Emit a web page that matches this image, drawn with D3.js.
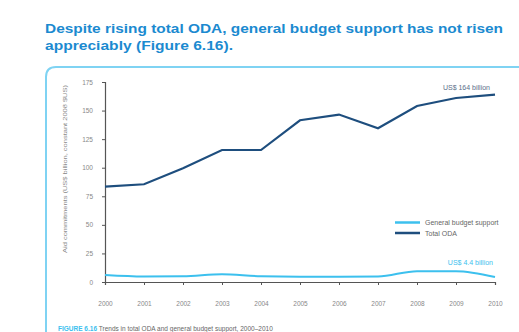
<!DOCTYPE html>
<html><head><meta charset="utf-8">
<script src="https://cdn.jsdelivr.net/npm/d3@7"></script>
<style>body{margin:0;background:#fff;}svg{display:block;font-family:"Liberation Sans",Arial,sans-serif;}</style>
</head><body>
<svg id="c" width="519" height="332"></svg>
<script>
const years = [2000,2001,2002,2003,2004,2005,2006,2007,2008,2009,2010];
const totalODA = [83.5,85.5,99.5,115.5,115.5,141.5,146.5,134.5,154,161,164];
const budgetSupport = [6.1,4.8,5.0,6.8,5.0,4.7,4.7,4.8,9.5,9.5,4.4];
const yTicks = [0,25,50,75,100,125,150,175];
const seriesNames = ["General budget support","Total ODA"];
const colors = ["#3cc0ee","#1e4e7e"];

const svg = d3.select("#c");
// title
const title = svg.append("text").attr("fill","#1b8ad0").attr("font-weight","bold").attr("font-size",13.5);
title.append("tspan").attr("x",45).attr("y",33).attr("textLength",458).attr("lengthAdjust","spacingAndGlyphs")
  .text("Despite rising total ODA, general budget support has not risen");
title.append("tspan").attr("x",45).attr("y",50).attr("textLength",188).attr("lengthAdjust","spacingAndGlyphs")
  .text("appreciably (Figure 6.16).");

// panel border
svg.append("path").attr("d","M46,340 L46,77 Q46,67 56,67 L530,67").attr("fill","none").attr("stroke","#7fd3f3").attr("stroke-width",2);

const x = d3.scaleLinear().domain([2000,2010]).range([105,495]);
const y = d3.scaleLinear().domain([0,175]).range([282,82]);

// axes
const ya = svg.append("g").attr("transform","translate(105,0)")
  .call(d3.axisLeft(y).tickValues(yTicks).tickSize(3).tickPadding(9));
ya.select(".domain").attr("stroke","#555").attr("stroke-width",1.2);
ya.selectAll(".tick line").attr("stroke","#555");
ya.selectAll("text").attr("font-size",6.5).attr("fill","#888");

const xa = svg.append("g").attr("transform","translate(0,282)")
  .call(d3.axisBottom(x).tickValues(years).tickFormat(d3.format("d")).tickSize(3).tickPadding(16));
xa.select(".domain").attr("stroke","#555").attr("stroke-width",1.2);
xa.selectAll(".tick line").attr("stroke","#555");
xa.selectAll("text").attr("font-size",6.5).attr("fill","#888");

// y label
svg.append("text").attr("transform","translate(67,169) rotate(-90)").attr("text-anchor","middle")
  .attr("font-size",6).attr("fill","#888").attr("textLength",168).attr("lengthAdjust","spacingAndGlyphs")
  .text("Aid commitments (US$ billion, constant 2008 $US)");

// lines
svg.append("path").datum(budgetSupport)
  .attr("d",d3.line().x((d,i)=>x(years[i])).y(d=>y(d)).curve(d3.curveMonotoneX)).attr("fill","none")
  .attr("stroke",colors[0]).attr("stroke-width",2);
svg.append("path").datum(totalODA).attr("d",d3.line().x((d,i)=>x(years[i])).y(d=>y(d))).attr("fill","none")
  .attr("stroke",colors[1]).attr("stroke-width",2.2);

// annotations
svg.append("text").attr("x",490).attr("y",y(164)-5).attr("text-anchor","end").attr("font-size",7)
  .attr("fill","#5a6f8a").text("US$ 164 billion");
svg.append("text").attr("x",493).attr("y",y(4.4)-12).attr("text-anchor","end").attr("font-size",7)
  .attr("fill","#3cc0ee").text("US$ 4.4 billion");

// legend
seriesNames.forEach((n,i)=>{
  const ly = 222.5 + i*10.5;
  svg.append("line").attr("x1",395).attr("x2",420).attr("y1",ly).attr("y2",ly).attr("stroke",colors[i]).attr("stroke-width",2.5);
  svg.append("text").attr("x",425).attr("y",ly+2.5).attr("font-size",7).attr("fill","#666").text(n);
});

// caption
const cap = svg.append("text").attr("x",58).attr("y",331).attr("font-size",6.5).attr("font-weight","bold");
cap.append("tspan").attr("fill","#3cc0ee").text("FIGURE 6.16 ");
cap.append("tspan").attr("fill","#666").attr("font-weight","normal").text("Trends in total ODA and general budget support, 2000–2010");
</script>
</body></html>
